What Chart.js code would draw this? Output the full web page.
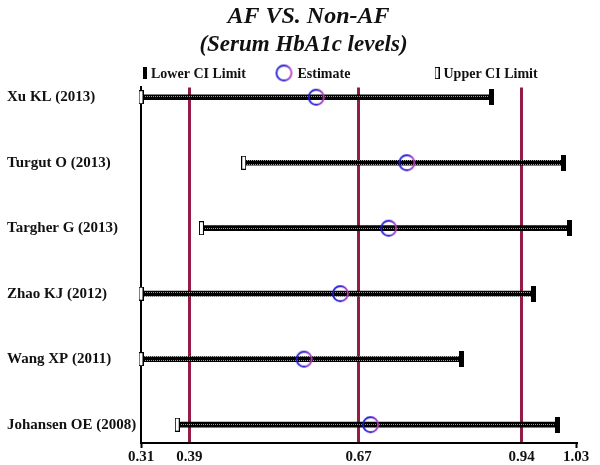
<!DOCTYPE html>
<html>
<head>
<meta charset="utf-8">
<script src="https://cdn.jsdelivr.net/npm/chart.js@4.4.0/dist/chart.umd.min.js"></script>
<style>
  html, body { margin: 0; padding: 0; background: #fff; }
  #wrap { width: 600px; height: 465px; }
</style>
</head>
<body>
<div id="wrap"><canvas id="forest"></canvas></div>
<script>
var studies = ['Xu KL (2013)', 'Turgut O (2013)', 'Targher G (2013)', 'Zhao KJ (2012)', 'Wang XP (2011)', 'Johansen OE (2008)'];
var ciLeft = [0.31, 0.48, 0.41, 0.31, 0.31, 0.37];
var estimate = [0.60, 0.75, 0.72, 0.64, 0.58, 0.69];
var ciRight = [0.89, 1.01, 1.02, 0.96, 0.84, 1.00];
var xTicks = [0.31, 0.39, 0.67, 0.94, 1.03];
var refLines = [0.39, 0.67, 0.94];

var serif = '"Liberation Serif", "DejaVu Serif", serif';

// little marker images
function tick(w, h, fill) {
  var c = document.createElement('canvas');
  c.width = w; c.height = h;
  var g = c.getContext('2d');
  g.fillStyle = '#000';
  g.fillRect(0, 0, w, h);
  if (fill) { g.fillStyle = fill; g.fillRect(1, 1, w - 2, h - 2); }
  return c;
}
function ring(r) {
  var s = r * 2 + 4;
  var c = document.createElement('canvas');
  c.width = s; c.height = s;
  var g = c.getContext('2d');
  var grad = g.createLinearGradient(2, 0, s - 2, 0);
  grad.addColorStop(0, '#1c18d8');
  grad.addColorStop(0.5, '#3020d0');
  grad.addColorStop(1, '#c43cc4');
  g.strokeStyle = grad;
  g.lineWidth = 1.8;
  g.beginPath();
  g.arc(s / 2, s / 2, r, 0, Math.PI * 2);
  g.stroke();
  return c;
}
function rope() {
  var c = document.createElement('canvas');
  c.width = 2; c.height = 4;
  var g = c.getContext('2d');
  g.fillStyle = '#000';
  g.fillRect(0, 0, 2, 4);
  g.fillStyle = '#9a9a9a';
  g.fillRect(1, 0, 1, 1);
  return g.createPattern(c, 'repeat');
}

var blackTick = tick(5, 16);
var whiteTick = tick(5, 14, '#fff');
var ringImg = ring(7.5);

var legendItems = [
  { label: 'Lower CI Limit', img: blackTick, x: 145, w: 4, h: 12 },
  { label: 'Estimate', img: ringImg, x: 284 },
  { label: 'Upper CI Limit', img: whiteTick, x: 437, w: 5, h: 12 }
];

var ciLegend = {
  id: 'ciLegend',
  afterDraw: function (chart) {
    var g = chart.ctx, y = 73;
    g.save();
    g.font = 'bold 14px ' + serif;
    g.fillStyle = '#111';
    g.textBaseline = 'middle';
    g.textAlign = 'left';
    legendItems.forEach(function (it) {
      var w = it.w || it.img.width, h = it.h || it.img.height;
      g.drawImage(it.img, it.x - w / 2, y - h / 2, w, h);
      g.fillText(it.label, it.x + w / 2 + 4, y + 1);
    });
    g.restore();
  }
};

// nudge the two heading lines to the right, as in the original
var titleShift = {
  id: 'titleShift',
  afterLayout: function (chart) {
    chart.boxes.forEach(function (b) {
      if (b.options && b.options.text === 'AF VS. Non-AF') { b.left += 17; b.right += 17; }
      if (b.options && b.options.text === '(Serum HbA1c levels)') { b.left += 12; b.right += 12; }
    });
  }
};

var ctx = document.getElementById('forest');
var chart = new Chart(ctx, {
  type: 'bar',
  data: {
    datasets: [
      {
        label: 'CI',
        data: studies.map(function (s, i) { return { x: [ciLeft[i], ciRight[i]], y: i }; }),
        backgroundColor: rope(),
        borderWidth: 0,
        barThickness: 5,
        clip: false,
        order: 3
      },
      {
        type: 'scatter',
        label: 'Upper CI Limit',
        data: ciLeft.map(function (v, i) { return { x: v, y: i }; }),
        pointStyle: whiteTick,
        clip: false,
        order: 2
      },
      {
        type: 'scatter',
        label: 'Lower CI Limit',
        data: ciRight.map(function (v, i) { return { x: v, y: i }; }),
        pointStyle: blackTick,
        clip: false,
        order: 2
      },
      {
        type: 'scatter',
        label: 'Estimate',
        data: estimate.map(function (v, i) { return { x: v, y: i }; }),
        pointStyle: ringImg,
        clip: false,
        order: 1
      }
    ]
  },
  options: {
    indexAxis: 'y',
    responsive: true,
    maintainAspectRatio: false,
    animation: false,
    layout: { padding: { left: 7, right: 24, top: 0, bottom: 0 } },
    scales: {
      x: {
        type: 'linear',
        min: 0.31,
        max: 1.03,
        afterBuildTicks: function (s) { s.ticks = xTicks.map(function (v) { return { value: v }; }); },
        afterFit: function (s) { s.height = 22; },
        grid: {
          color: function (c) { return c.tick && refLines.indexOf(c.tick.value) >= 0 ? '#951c48' : 'rgba(0,0,0,0)'; },
          lineWidth: 3,
          tickColor: function (c) { return c.tick && refLines.indexOf(c.tick.value) < 0 ? '#000' : 'rgba(0,0,0,0)'; },
          tickWidth: 2,
          tickLength: 5
        },
        border: { display: true, color: '#000', width: 2 },
        ticks: {
          callback: function (v) { return v.toFixed(2); },
          font: { family: serif, size: 15, weight: 'bold' },
          color: '#111',
          padding: 0,
          maxRotation: 0,
          autoSkip: false
        }
      },
      y: {
        type: 'linear',
        reverse: true,
        offset: false,
        min: -0.15,
        max: 5.28,
        afterBuildTicks: function (s) { s.ticks = studies.map(function (n, i) { return { value: i }; }); },
        afterFit: function (s) { s.width = 134; },
        grid: { display: false, drawTicks: false, offset: false },
        border: { display: true, color: '#000', width: 2 },
        ticks: {
          callback: function (v) { return studies[v]; },
          crossAlign: 'far',
          font: { family: serif, size: 15, weight: 'bold' },
          color: '#111'
        }
      }
    },
    plugins: {
      legend: { display: false },
      tooltip: { enabled: false },
      title: {
        display: true,
        text: 'AF VS. Non-AF',
        color: '#111',
        font: { family: serif, size: 24, weight: 'bold', style: 'italic' },
        padding: { top: 2, bottom: 0 }
      },
      subtitle: {
        display: true,
        text: '(Serum HbA1c levels)',
        color: '#111',
        font: { family: serif, size: 23, weight: 'bold', style: 'italic' },
        padding: { top: 0, bottom: 29 }
      }
    }
  },
  plugins: [ciLegend, titleShift]
});
</script>
</body>
</html>
